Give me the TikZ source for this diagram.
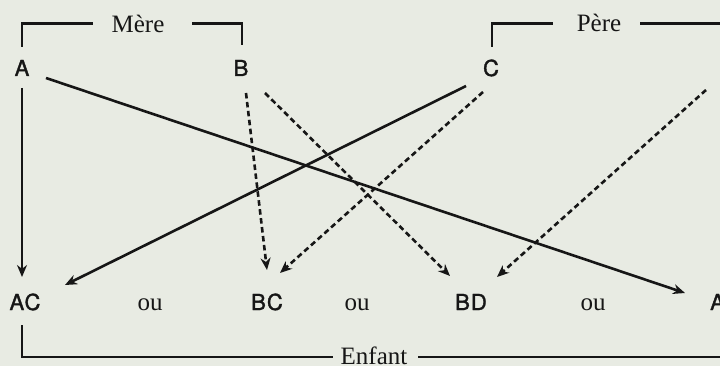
\documentclass[tikz,border=0pt]{standalone}
\usepackage{fontspec}
\setmainfont{Liberation Serif}
\newfontfamily\lettfont[LetterSpace=5,FakeBold=1.6]{TeX Gyre Heros}
\usetikzlibrary{arrows.meta,calc}
\definecolor{paper}{RGB}{232,235,227}
\definecolor{ink}{RGB}{22,22,22}
\begin{document}
\begin{tikzpicture}[x=1pt,y=-1pt, line width=2.6pt, draw=ink, text=ink,
 lett/.style={font=\lettfont\fontsize{22}{22}\selectfont, anchor=base, inner sep=0pt},
 word/.style={font=\fontsize{25}{25}\selectfont, anchor=base, inner sep=0pt},
 sol/.style={-{Stealth[length=12pt,width=10pt]}},
 dsh/.style={sol, line width=2.6pt, dash pattern=on 5.5pt off 3.5pt}]
\useasboundingbox (0,0) rectangle (720,366);
\fill[paper] (0,0) rectangle (720,366);
\clip (0,0) rectangle (720,366);
% letters
\node[lett] (A) at (22,76) {A};
\node[lett] (B) at (241,76) {B};
\node[lett] (C) at (491,76) {C};
\node[lett] (D) at (727,76) {D};
\node[lett] (AC) at (25,310) {AC};
\node[lett] (BC) at (267,310) {BC};
\node[lett] (BD) at (471,310) {BD};
\node[lett] (AD) at (726,310) {AD};
% words
\node[word] (mere) at (138,33) {Mère};
\node[word] (pere) at (599,32) {Père};
\node[word] (enf) at (374,364) {Enfant};
\node[word] (ou1) at (150,310) {ou};
\node[word] (ou2) at (357,310) {ou};
\node[word] (ou3) at (593,310) {ou};
% brackets
\draw (22,47) -- (22,23.5) -- (93,23.5);
\draw (192,23.5) -- (242,23.5) -- (242,45);
\draw (492,47) -- (492,23.5) -- (553,23.5);
\draw (640,23.5) -- (730,23.5);
\draw (22,325) -- (22,357) -- (333,357);
\draw (418,357) -- (730,357);
% connectors
\draw[sol] ($(A.base)+(0,12)$) -- ($(AC.base)+(-3,-33)$);
\draw[sol] ($(A.base)+(24,2)$) -- ($(AD.base)+(-41,-17)$);
\draw[sol] ($(C.base)+(-25,10)$) -- ($(AC.base)+(40,-25)$);
\draw[dsh] ($(B.base)+(5,17)$) -- ($(BC.base)+(0,-40)$);
\draw[dsh] ($(B.base)+(24,17)$) -- ($(BD.base)+(-21,-34)$);
\draw[dsh] ($(C.base)+(-8,16)$) -- ($(BC.base)+(13,-37)$);
\draw[dsh] ($(D.base)+(-21,14)$) -- ($(BD.base)+(26,-33)$);
\draw[sol] ($(D.base)+(-2,14)$) -- ($(AD.base)+(0,-33)$);
\end{tikzpicture}
\end{document}
